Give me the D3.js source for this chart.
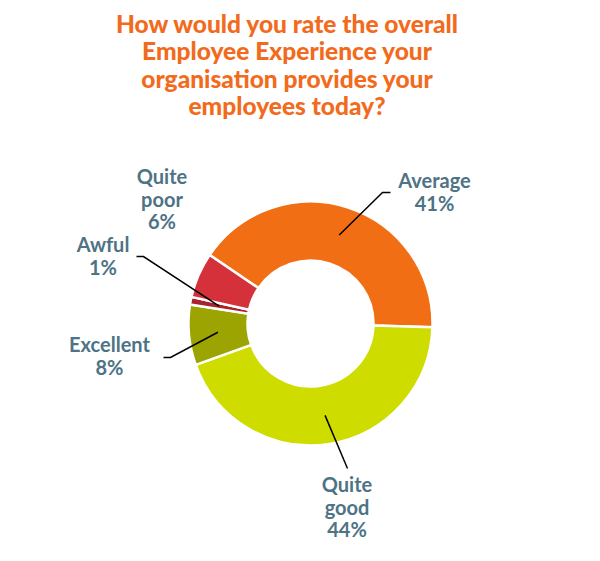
<!DOCTYPE html>
<html>
<head>
<meta charset="utf-8">
<script src="https://cdn.jsdelivr.net/npm/d3@7"></script>
<style>
  body { margin: 0; background: #fff; }
</style>
</head>
<body>
<div id="chart"></div>
<script>
const categories = ['Average', 'Quite good', 'Excellent', 'Awful', 'Quite poor'];
const values = [41, 44, 8, 1, 6];
const colors = ['#F26E14', '#CEDC00', '#9BA400', '#A8232E', '#D4313A'];
const titleLines = [
    'How would you rate the overall',
    'Employee Experience your',
    'organisation provides your',
    'employees today?'
];

// label placement (baseline offsets from the donut centre), and leader elbows
const labelPos = {
    'Average': { x: 124, y: -135.5, lines: ['Average'] },
    'Quite good': { x: 36.5, y: 168.5, lines: ['Quite', 'good'] },
    'Excellent': { x: -201, y: 28.5, lines: ['Excellent'] },
    'Awful': { x: -207.5, y: -71.5, lines: ['Awful'] },
    'Quite poor': { x: -148.5, y: -139.5, lines: ['Quite', 'poor'] }
};
const elbows = {
    'Average': [[72, -131], [80, -131]],
    'Quite good': [[37, 145]],
    'Excellent': [[-140, 34], [-147, 34]],
    'Awful': [[-167, -67], [-174, -67]]
};

const width = 600, height = 561;
const cx = 310.5, cy = 323.5;
const outerR = 122, innerR = 63;

const svg = d3.select('#chart').append('svg')
    .attr('width', width)
    .attr('height', height);

// title
svg.append('text')
    .attr('x', 287)
    .attr('y', 33)
    .attr('text-anchor', 'middle')
    .style('font-family', 'Lato, sans-serif')
    .style('font-weight', '900')
    .style('font-size', '24.5px')
    .attr('fill', '#F26B1D')
    .selectAll('tspan')
    .data(titleLines)
    .join('tspan')
    .attr('x', 287)
    .attr('dy', (d, i) => i === 0 ? 0 : 27.3)
    .text(d => d);

const data = categories.map((c, i) => ({ name: c, value: values[i], color: colors[i] }));

const startAngle = -55.8 * Math.PI / 180;
const pie = d3.pie()
    .value(d => d.value)
    .sort(null)
    .startAngle(startAngle)
    .endAngle(startAngle + 2 * Math.PI);

const arc = d3.arc().innerRadius(innerR).outerRadius(outerR);
const midArc = d3.arc().innerRadius(93).outerRadius(93);

const g = svg.append('g').attr('transform', `translate(${cx},${cy})`);

const arcs = pie(data);

g.selectAll('path.slice')
    .data(arcs)
    .join('path')
    .attr('class', 'slice')
    .attr('d', arc)
    .attr('fill', d => d.data.color)
    .attr('stroke', '#fff')
    .attr('stroke-width', 2.5);

// leader lines
g.selectAll('path.leader')
    .data(arcs.filter(d => elbows[d.data.name]))
    .join('path')
    .attr('class', 'leader')
    .attr('d', d => d3.line()([midArc.centroid(d), ...elbows[d.data.name]]))
    .attr('fill', 'none')
    .attr('stroke', '#000')
    .attr('stroke-width', 1.5);

// labels
const labels = g.selectAll('text.label')
    .data(arcs)
    .join('text')
    .attr('class', 'label')
    .attr('text-anchor', 'middle')
    .style('font-family', 'Lato, sans-serif')
    .style('font-weight', 'bold')
    .style('font-size', '20px')
    .attr('fill', '#4D7385');

labels.each(function(d) {
    const p = labelPos[d.data.name];
    const lines = p.lines.concat([d.data.value + '%']);
    d3.select(this).selectAll('tspan')
        .data(lines)
        .join('tspan')
        .attr('x', p.x)
        .attr('y', (t, i) => p.y + i * 22.5)
        .text(t => t);
});
</script>
</body>
</html>
